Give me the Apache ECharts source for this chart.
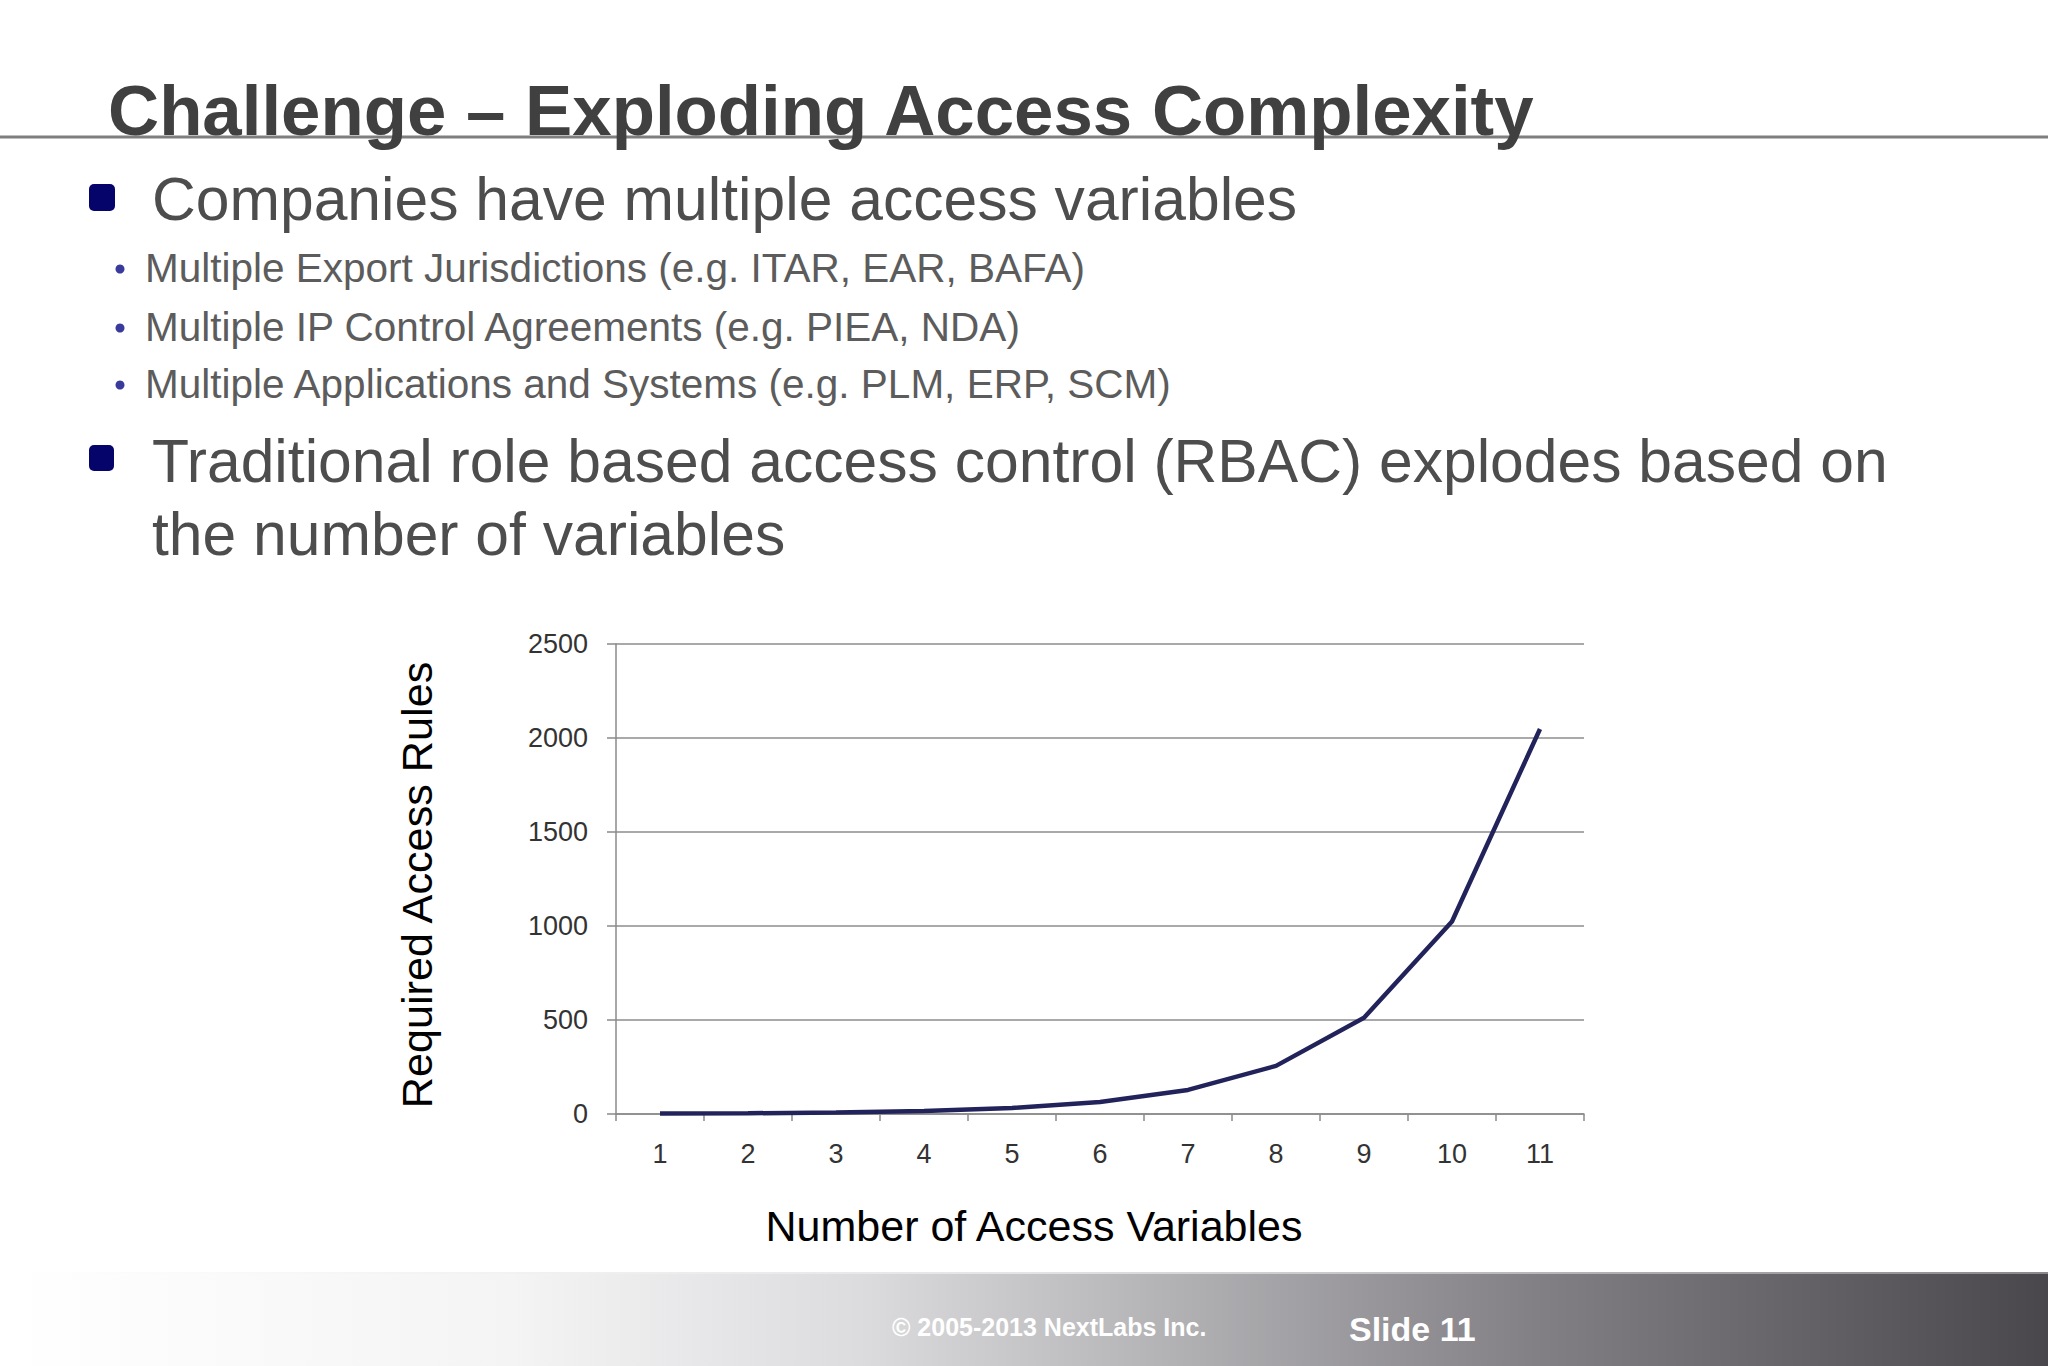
<!DOCTYPE html>
<html>
<head>
<meta charset="utf-8">
<script src="https://cdn.jsdelivr.net/npm/echarts@6/dist/echarts.min.js"></script>
<style>
html,body{margin:0;padding:0;background:#fff;}
#c{width:2048px;height:1366px;}
</style>
</head>
<body>
<div id="c"></div>
<script>
const titleText = 'Challenge \u2013 Exploding Access Complexity';
const bullet1 = 'Companies have multiple access variables';
const subBullets = [
  'Multiple Export Jurisdictions (e.g. ITAR, EAR, BAFA)',
  'Multiple IP Control Agreements (e.g. PIEA, NDA)',
  'Multiple Applications and Systems (e.g. PLM, ERP, SCM)'
];
const bullet2Lines = [
  'Traditional role based access control (RBAC) explodes based on',
  'the number of variables'
];
const categories = ['1','2','3','4','5','6','7','8','9','10','11'];
const accessRules = [2, 4, 8, 16, 32, 64, 128, 256, 512, 1024, 2048];
const yAxisName = 'Required Access Rules';
const xAxisName = 'Number of Access Variables';
const footerCopy = '\u00a9 2005-2013 NextLabs Inc.';
const footerSlide = 'Slide 11';

const FF = 'Liberation Sans';
const chart = echarts.init(document.getElementById('c'), null, {renderer: 'svg'});

function txt(x, y, text, size, color, weight, extra) {
  const o = {type: 'text', z: 5, x: x, y: y,
    style: {text: text, fontFamily: FF, fontSize: size, fontWeight: weight || 'normal',
      fill: color, align: 'left', verticalAlign: 'middle'}};
  if (extra) { Object.assign(o, extra.el || {}); Object.assign(o.style, extra.style || {}); }
  return o;
}

const graphics = [];
// footer band
graphics.push({
  type: 'rect', z: 0,
  shape: {x: 0, y: 1274, width: 2048, height: 92},
  style: {fill: new echarts.graphic.LinearGradient(0, 0, 1, 0, [
    {offset: 0, color: '#ffffff'},
    {offset: 0.25, color: '#f4f4f5'},
    {offset: 0.42, color: '#dcdcde'},
    {offset: 0.58, color: '#b0afb2'},
    {offset: 0.75, color: '#828085'},
    {offset: 1, color: '#49474b'}
  ])}
});
graphics.push({type: 'rect', z: 1, shape: {x: 0, y: 1272, width: 2048, height: 2},
  style: {fill: new echarts.graphic.LinearGradient(0, 0, 1, 0, [
    {offset: 0, color: '#ffffff'}, {offset: 0.5, color: '#e4e4e6'}, {offset: 1, color: '#8a888c'}])}});
graphics.push(txt(892, 1327, footerCopy, 25, '#ffffff', 'bold'));
graphics.push(txt(1349, 1329, footerSlide, 34, '#ffffff', 'bold'));

// title rule and title
graphics.push({type: 'rect', z: 1, shape: {x: 0, y: 135.5, width: 2048, height: 3}, style: {fill: '#7f7f7f'}});
graphics.push(txt(108, 110, titleText, 70.8, '#404040', 'bold'));

// bullet 1
graphics.push({type: 'rect', z: 5, shape: {x: 89, y: 184, width: 26, height: 27, r: 5}, style: {fill: '#04046a'}});
graphics.push(txt(152, 199, bullet1, 60.6, '#4d4d4d'));
const subCenters = [268, 327, 384];
subBullets.forEach(function (t, i) {
  graphics.push({type: 'circle', z: 5, shape: {cx: 120, cy: subCenters[i] + 1, r: 4.5}, style: {fill: '#3a3a9c'}});
  graphics.push(txt(145, subCenters[i], t, 40.5, '#5c5c5c'));
});
// bullet 2
graphics.push({type: 'rect', z: 5, shape: {x: 89, y: 445, width: 25, height: 26, r: 5}, style: {fill: '#04046a'}});
const b2Centers = [461, 534];
bullet2Lines.forEach(function (t, i) {
  graphics.push(txt(152, b2Centers[i], t, 60.6, '#4d4d4d'));
});
// axis titles
graphics.push(txt(417, 885, yAxisName, 43.2, '#000000', 'normal',
  {el: {rotation: Math.PI / 2}, style: {align: 'center'}}));
graphics.push(txt(1034, 1226, xAxisName, 43, '#000000', 'normal',
  {style: {align: 'center'}}));

const axisColor = '#8a8a8a';
chart.setOption({
  animation: false,
  backgroundColor: '#ffffff',
  textStyle: {fontFamily: FF},
  grid: {left: 616, top: 644, width: 968, height: 470, containLabel: false},
  xAxis: {
    type: 'category', data: categories, boundaryGap: true,
    axisLine: {show: true, lineStyle: {color: axisColor, width: 1.5}},
    axisTick: {show: true, length: 7, lineStyle: {color: axisColor, width: 1.5}},
    axisLabel: {fontSize: 27, color: '#333333', margin: 26, fontFamily: FF},
    splitLine: {show: false}
  },
  yAxis: {
    type: 'value', min: 0, max: 2500, interval: 500,
    axisLine: {show: true, lineStyle: {color: axisColor, width: 1.5}},
    axisTick: {show: true, length: 9, lineStyle: {color: axisColor, width: 1.5}},
    axisLabel: {fontSize: 27, color: '#333333', margin: 28, fontFamily: FF,
      formatter: function (v) { return String(v); }},
    splitLine: {show: true, lineStyle: {color: '#8c8c8c', width: 1.5}}
  },
  series: [{
    type: 'line', data: accessRules, symbol: 'none', smooth: false,
    lineStyle: {color: '#23235c', width: 4.5}, z: 3
  }],
  graphic: graphics
});
</script>
</body>
</html>
